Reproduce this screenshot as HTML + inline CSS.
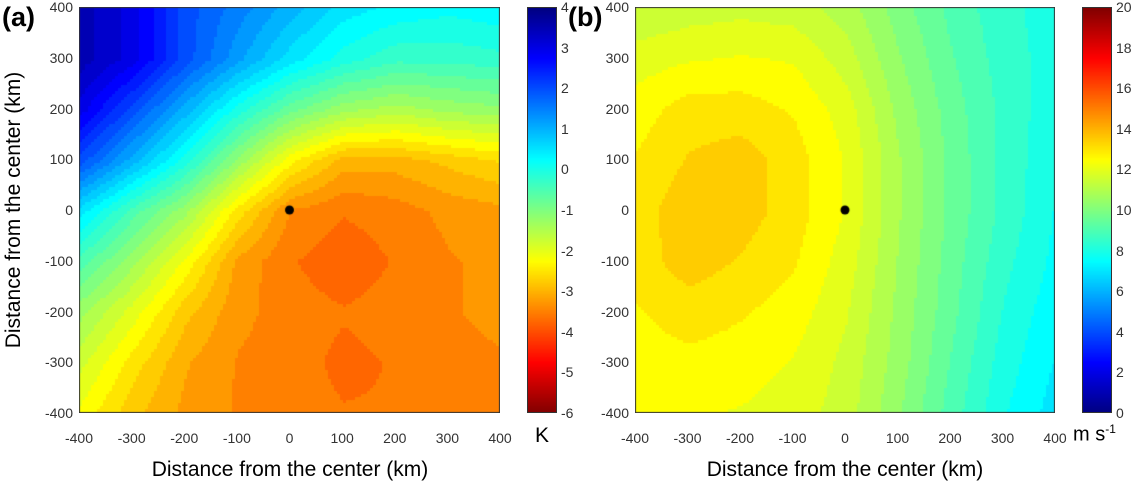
<!DOCTYPE html>
<html><head><meta charset="utf-8"><style>
body{margin:0;width:1134px;height:488px;background:#fff;position:relative;overflow:hidden;font-family:"Liberation Sans",sans-serif;color:#333}
canvas{position:absolute}
.t{position:absolute;font-size:14px;color:#333;white-space:nowrap}
.frame{position:absolute;border:1px solid #333;box-sizing:border-box}
</style></head><body>
<canvas id="ca" style="left:79px;top:7px" width="421" height="406"></canvas>
<canvas id="cb" style="left:635px;top:7px" width="420" height="406"></canvas>
<canvas id="cba" style="left:527px;top:7px" width="30" height="406"></canvas>
<canvas id="cbb" style="left:1082px;top:7px" width="30" height="406"></canvas>
<div class="frame" style="left:527px;top:7px;width:30px;height:406px"></div>
<div class="frame" style="left:1082px;top:7px;width:30px;height:406px"></div>
<div style="position:absolute;left:2px;top:2px;font-size:27px;font-weight:bold;color:#000">(a)</div>
<div style="position:absolute;left:568px;top:2px;font-size:27px;font-weight:bold;color:#000">(b)</div>
<div style="position:absolute;left:14px;top:210px;transform:translate(-50%,-50%) rotate(-90deg);font-size:21px;color:#000;white-space:nowrap">Distance from the center (km)</div>
<div style="position:absolute;left:290px;top:470px;transform:translate(-50%,-50%);font-size:21px;color:#000;white-space:nowrap">Distance from the center (km)</div>
<div style="position:absolute;left:845px;top:470px;transform:translate(-50%,-50%);font-size:21px;color:#000;white-space:nowrap">Distance from the center (km)</div>
<div style="position:absolute;left:535px;top:424px;font-size:21px;color:#000">K</div>
<div style="position:absolute;left:1073px;top:422px;font-size:20px;color:#000">m s<sup style="font-size:12px">-1</sup></div>
<div id="ticks"></div>
<script>
const coords=[-400,-300,-200,-100,0,100,200,300,400];
const tempRows=[
[3.5,3,2,1.5,1,0.5,0.3,0.2,0.3],
[3.5,3,2,1.2,0.5,0,-0.3,-0.3,-0.2],
[3,2,1,0,-0.8,-1.3,-1.5,-1.3,-1.2],
[2,1,0,-1.2,-2.3,-3,-3,-2.8,-2.6],
[0.5,-0.5,-1.3,-2.5,-3.4,-3.6,-3.5,-3.3,-3.2],
[-0.5,-1.3,-2.2,-3.2,-3.6,-3.8,-3.6,-3.4,-3.3],
[-1.3,-2,-2.8,-3.3,-3.5,-3.6,-3.5,-3.4,-3.3],
[-1.8,-2.5,-3.1,-3.4,-3.5,-3.7,-3.6,-3.5,-3.4],
[-2.2,-2.8,-3.2,-3.4,-3.5,-3.6,-3.6,-3.5,-3.4]];
const windRows=[
[11.3,11.5,11.6,11.5,11,10,9.1,8.4,8],
[12,12.2,12.3,12.2,11.5,10.3,9.3,8.5,8],
[12.5,13,13,12.7,12,10.6,9.5,8.6,7.9],
[12.8,13.3,13.5,13,12.2,10.8,9.6,8.6,7.8],
[13,13.6,13.5,13,12.2,10.8,9.6,8.6,7.7],
[13,13.5,13.2,12.8,12,10.7,9.5,8.4,7.6],
[12.7,13,12.8,12.5,11.8,10.6,9.4,8.2,7.4],
[12.5,12.6,12.5,12.2,11.6,10.5,9.2,8,7.2],
[12.3,12.3,12.2,12,11.5,10.3,9,7.8,7]];
const tempTicks=[4,3,2,1,0,-1,-2,-3,-4,-5,-6];
const windTicks=[20,18,16,14,12,10,8,6,4,2,0];
function jet(t){t=Math.max(0,Math.min(1,t));
 const c=x=>Math.round(255*Math.max(0,Math.min(1,x)));
 return `rgb(${c(1.5-Math.abs(4*t-3))},${c(1.5-Math.abs(4*t-2))},${c(1.5-Math.abs(4*t-1))})`;}
function sample(rows,fx,fy){const gx=fx*8,gy=fy*8;const i=Math.min(7,Math.floor(gx)),j=Math.min(7,Math.floor(gy));const dx=gx-i,dy=gy-j;
 return rows[j][i]*(1-dx)*(1-dy)+rows[j][i+1]*dx*(1-dy)+rows[j+1][i]*(1-dx)*dy+rows[j+1][i+1]*dx*dy;}
function field(id,rows,toT,step){const cv=document.getElementById(id),g=cv.getContext('2d');const W=cv.width,H=cv.height,s=3;
 for(let y=0;y<H;y+=s)for(let x=0;x<W;x+=s){let v=sample(rows,x/W,y/H);v=Math.round(v/step)*step;g.fillStyle=jet(toT(v));g.fillRect(x,y,s,s);}
 g.fillStyle='#000';g.beginPath();g.arc(W/2,H/2,4.5,0,7);g.fill();g.strokeStyle='#333';g.strokeRect(0.5,0.5,W-1,H-1);}
const tA=v=>(4-v)/10, tB=v=>v/20;
field('ca',tempRows,tA,0.25);field('cb',windRows,tB,0.5);
function bar(id,tf,lo,hi){const cv=document.getElementById(id),g=cv.getContext('2d');for(let y=0;y<cv.height;y++){const v=hi-(hi-lo)*y/cv.height;g.fillStyle=jet(tf(v));g.fillRect(0,y,cv.width,1);}}
bar('cba',tA,-6,4);bar('cbb',tB,0,20);
const tk=document.getElementById('ticks');
function lab(x,y,txt,name,al){const d=document.createElement('div');d.className='t';d.textContent=txt;d.style.left=x+'px';d.style.top=y+'px';d.style.transform=al;
 
 
 tk.appendChild(d);}
[[79,421,'a'],[635,420,'b']].forEach(([L,W,p])=>{coords.forEach(c=>{const x=L+(c+400)/800*W;lab(x,430,String(c),'x-tick-'+p,'translate(-50%,0)');
 const y=7+(400-c)/800*406;lab(L-6,y,String(c),'y-tick-'+p,'translate(-100%,-50%)');});});
tempTicks.forEach((v,i)=>lab(561,7+(4-v)/10*406,String(v),'colorbar-a-tick','translate(0,-50%)'));
windTicks.forEach((v,i)=>lab(1116,7+(20-v)/20*406,String(v),'colorbar-b-tick','translate(0,-50%)'));
</script>
</body></html>
